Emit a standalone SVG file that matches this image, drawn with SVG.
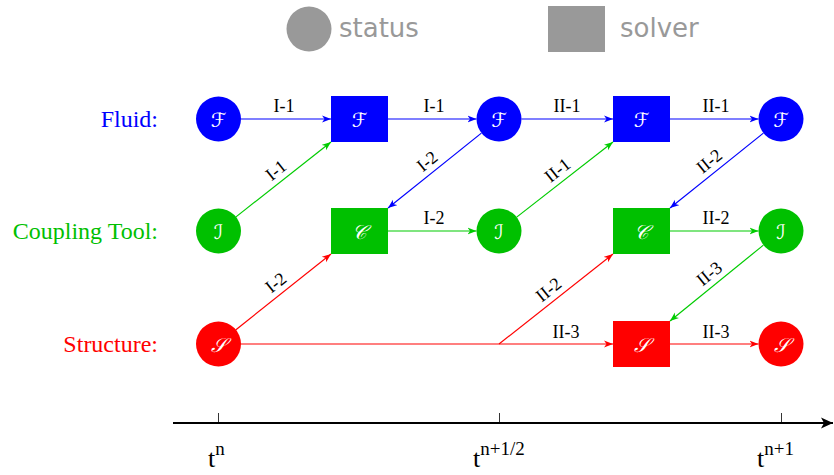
<svg xmlns="http://www.w3.org/2000/svg" width="834" height="475" viewBox="0 0 834 475">
<style>
.lbl{font-family:"Liberation Serif","Times New Roman",serif;font-size:18px;fill:#000;text-anchor:middle}
.row{font-family:"Liberation Serif","Times New Roman",serif;font-size:24px;text-anchor:end}
.sym{font-family:"DejaVu Serif","DejaVu Sans",serif;font-style:italic;font-size:20px;fill:#fff;text-anchor:middle;dominant-baseline:central}
.leg{font-family:"DejaVu Sans",sans-serif;font-size:26px;fill:#999}
.tl{font-family:"Liberation Serif","Times New Roman",serif;font-size:26px;fill:#000}
.b{stroke:#0000ff;stroke-width:1.2;fill:none;marker-end:url(#ab)}
.g{stroke:#00cc00;stroke-width:1.2;fill:none;marker-end:url(#ag)}
.r{stroke:#ff0000;stroke-width:1.2;fill:none;marker-end:url(#ar)}
</style>
<defs>
<marker id="ab" markerWidth="10" markerHeight="8" refX="9" refY="4" orient="auto" markerUnits="userSpaceOnUse"><path d="M0,0.5 L9,4 L0,7.5 L2.5,4 z" fill="#0000ff"/></marker>
<marker id="ag" markerWidth="10" markerHeight="8" refX="9" refY="4" orient="auto" markerUnits="userSpaceOnUse"><path d="M0,0.5 L9,4 L0,7.5 L2.5,4 z" fill="#00cc00"/></marker>
<marker id="ar" markerWidth="10" markerHeight="8" refX="9" refY="4" orient="auto" markerUnits="userSpaceOnUse"><path d="M0,0.5 L9,4 L0,7.5 L2.5,4 z" fill="#ff0000"/></marker>
<marker id="ak" markerWidth="14" markerHeight="12" refX="12" refY="6" orient="auto" markerUnits="userSpaceOnUse"><path d="M0,0.5 L12,6 L0,11.5 L3,6 z" fill="#000"/></marker>
</defs>

<g id="legend">
<circle cx="309" cy="29" r="22.5" fill="#999"/>
<text class="leg" x="339" y="37">status</text>
<rect x="548" y="6" width="57" height="46" fill="#999"/>
<text class="leg" x="620" y="37">solver</text>
</g>

<g id="row-labels">
<text class="row" x="158" y="127" fill="#0000ff">Fluid:</text>
<text class="row" x="158" y="239" fill="#00c000">Coupling Tool:</text>
<text class="row" x="158" y="352" fill="#ff0000">Structure:</text>
</g>

<g id="connectors">
<line class="b" x1="241" y1="119" x2="331" y2="119"/>
<text class="lbl" x="284" y="112">I-1</text>
<line class="b" x1="388" y1="119" x2="476.5" y2="119"/>
<text class="lbl" x="434" y="112">I-1</text>
<line class="b" x1="521.5" y1="119" x2="613" y2="119"/>
<text class="lbl" x="567" y="112">II-1</text>
<line class="b" x1="670" y1="119" x2="758.5" y2="119"/>
<text class="lbl" x="716" y="112">II-1</text>
<line class="g" x1="388" y1="231" x2="476.5" y2="231"/>
<text class="lbl" x="434" y="224">I-2</text>
<line class="g" x1="670" y1="231" x2="758.5" y2="231"/>
<text class="lbl" x="716" y="224">II-2</text>
<line class="r" x1="240.5" y1="344" x2="613" y2="344"/>
<text class="lbl" x="566" y="338">II-3</text>
<line class="r" x1="670" y1="344" x2="758.5" y2="344"/>
<text class="lbl" x="716" y="338">II-3</text>
<line class="g" x1="235.7" y1="217.1" x2="331" y2="142"/>
<text class="lbl" transform="translate(283.4,179.6) rotate(-38.2)" x="0" y="-6">I-1</text>
<line class="b" x1="481.4" y1="133.1" x2="388" y2="208"/>
<text class="lbl" transform="translate(434.7,170.5) rotate(-38.7)" x="0" y="-6">I-2</text>
<line class="g" x1="516.7" y1="217.1" x2="613" y2="142"/>
<text class="lbl" transform="translate(564.9,179.6) rotate(-38)" x="0" y="-6">II-1</text>
<line class="b" x1="763.4" y1="133.1" x2="670" y2="208"/>
<text class="lbl" transform="translate(716.7,170.5) rotate(-38.7)" x="0" y="-6">II-2</text>
<line class="g" x1="763.4" y1="245.1" x2="670" y2="321"/>
<text class="lbl" transform="translate(716.7,283) rotate(-39)" x="0" y="-6">II-3</text>
<line class="r" x1="235.6" y1="330" x2="331" y2="254"/>
<text class="lbl" transform="translate(283.3,292) rotate(-38.5)" x="0" y="-6">I-2</text>
<line class="r" x1="499" y1="344" x2="613" y2="254"/>
<text class="lbl" transform="translate(556,299) rotate(-38.3)" x="0" y="-6">II-2</text>
</g>

<g id="F1"><circle cx="218.5" cy="119" r="22.5" fill="#0000ff"/><text class="sym" x="218.5" y="120">ℱ</text></g>
<g id="F2"><rect x="331" y="96" width="57" height="46" fill="#0000ff"/><text class="sym" x="359.5" y="120">ℱ</text></g>
<g id="F3"><circle cx="499" cy="119" r="22.5" fill="#0000ff"/><text class="sym" x="499" y="120">ℱ</text></g>
<g id="F4"><rect x="613" y="96" width="57" height="46" fill="#0000ff"/><text class="sym" x="641.5" y="120">ℱ</text></g>
<g id="F5"><circle cx="781" cy="119" r="22.5" fill="#0000ff"/><text class="sym" x="781" y="120">ℱ</text></g>

<g id="I1"><circle cx="218.5" cy="231" r="22.5" fill="#00c000"/><text class="sym" x="218.5" y="232">ℐ</text></g>
<g id="C2"><rect x="331" y="208" width="57" height="46" fill="#00c000"/><text class="sym" x="359.5" y="232">𝒞</text></g>
<g id="I3"><circle cx="499" cy="231" r="22.5" fill="#00c000"/><text class="sym" x="499" y="232">ℐ</text></g>
<g id="C4"><rect x="613" y="208" width="57" height="46" fill="#00c000"/><text class="sym" x="641.5" y="232">𝒞</text></g>
<g id="I5"><circle cx="781" cy="231" r="22.5" fill="#00c000"/><text class="sym" x="781" y="232">ℐ</text></g>

<g id="S1"><circle cx="218.5" cy="344" r="22.5" fill="#ff0000"/><text class="sym" x="218.5" y="345">𝒮</text></g>
<g id="S4"><rect x="613" y="321" width="57" height="46" fill="#ff0000"/><text class="sym" x="641.5" y="345">𝒮</text></g>
<g id="S5"><circle cx="781" cy="344" r="22.5" fill="#ff0000"/><text class="sym" x="781" y="345">𝒮</text></g>

<g id="timeline">
<line x1="173" y1="423" x2="833" y2="423" stroke="#000" stroke-width="2.2" marker-end="url(#ak)"/>
<line x1="218.5" y1="413" x2="218.5" y2="423" stroke="#000" stroke-width="0.8"/>
<line x1="499.5" y1="413" x2="499.5" y2="423" stroke="#000" stroke-width="0.8"/>
<line x1="781.5" y1="413" x2="781.5" y2="423" stroke="#000" stroke-width="0.8"/>
<text class="tl" x="208" y="467">t<tspan font-size="19" dy="-12">n</tspan></text>
<text class="tl" x="473" y="467">t<tspan font-size="19" dy="-12">n+1/2</tspan></text>
<text class="tl" x="757" y="467">t<tspan font-size="19" dy="-12">n+1</tspan></text>
</g>
</svg>
